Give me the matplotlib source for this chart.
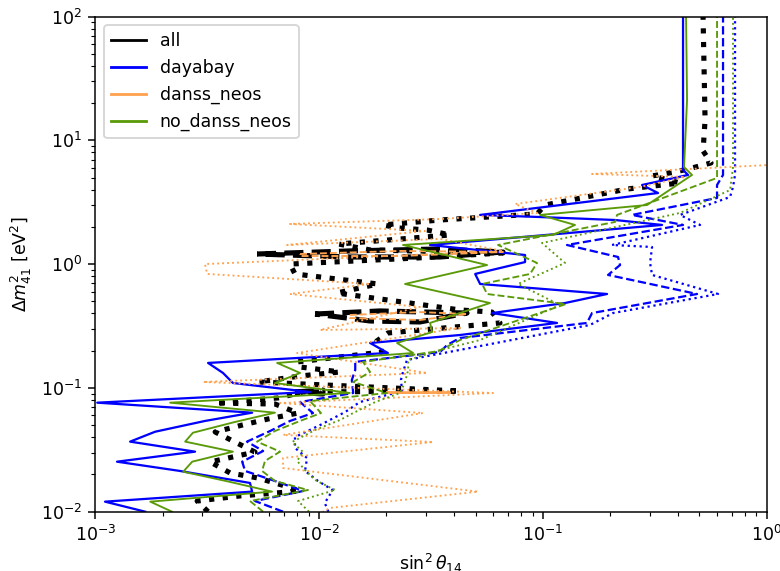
import matplotlib.pyplot as plt
from matplotlib.lines import Line2D

plt.rcParams['font.size'] = 9.3

# contour traces, sin^2(theta14) vs dm^2_41 [eV^2]

# all (combined fit)
all_dot_x = [3.19e-3, 2.85e-3, 4.43e-3, 8.22e-3, 7.04e-3, 5.33e-3, 4.00e-3, 3.26e-3, 5.17e-3, 4.12e-3,
             3.43e-3, 4.53e-3, 5.91e-3, 8.05e-3, 6.35e-3, 3.43e-3, 6.55e-3, 8.48e-3, 4.26e-2, 5.33e-3,
             8.22e-3, 1.24e-2, 8.22e-3, 7.97e-3, 1.91e-2, 1.81e-2, 2.03e-2, 6.43e-2, 5.92e-2, 4.26e-2,
             1.20e-2, 1.83e-2, 7.80e-3, 7.41e-3, 2.74e-2, 6.63e-2, 1.69e-2, 1.22e-2, 3.85e-2, 3.04e-2,
             2.25e-2, 1.93e-2, 3.47e-2, 9.41e-2, 0.1022, 0.2376, 0.4099, 0.3073, 0.3894, 0.4451,
             0.5638, 0.5194, 0.5302, 0.5194]
all_dot_y = [0.0100, 0.01219, 0.0134, 0.01469, 0.01614, 0.01871, 0.02056, 0.02523, 0.03034, 0.03724,
             0.04406, 0.0501, 0.0561, 0.06266, 0.07413, 0.07551, 0.0830, 0.0927, 0.0944, 0.1117,
             0.1248, 0.1346, 0.1476, 0.1622, 0.1950, 0.2393, 0.2780, 0.3350, 0.4102, 0.4266,
             0.5848, 0.6918, 0.8337, 1.002, 1.122, 1.232, 1.303, 1.455, 1.722, 1.888,
             1.963, 2.075, 2.275, 2.547, 3.006, 4.047, 4.529, 5.164, 5.559, 5.875,
             6.577, 8.222, 14.6, 100.0]

all_dash_x = [[5.28e-3, 1.37e-2, 3.47e-2, 6.63e-2, 3.47e-2, 1.37e-2, 5.28e-3],
              [9.59e-3, 1.87e-2, 4.58e-2, 2.82e-2, 1.69e-2, 9.59e-3],
              [7.80e-3, 1.04e-2, 1.04e-2, 7.80e-3]]
all_dash_y = [[1.208, 1.279, 1.327, 1.255, 1.143, 1.143, 1.208],
              [0.3954, 0.4188, 0.4027, 0.3412, 0.3475, 0.3954],
              [0.0927, 0.0962, 0.0893, 0.0927]]

# dayabay
dyb_solid_x = [1.67e-3, 1.105e-3, 5.02e-3, 4.91e-3, 2.39e-3, 1.25e-3, 2.79e-3, 1.43e-3, 1.85e-3, 3.09e-3,
               5.02e-3, 1.02e-3, 9.11e-3, 4.12e-3, 3.72e-3, 3.19e-3, 2.03e-2, 1.69e-2, 4.26e-2, 0.1156,
               5.92e-2, 0.1255, 0.1934, 5.24e-2, 4.98e-2, 8.32e-2, 8.32e-2, 3.13e-2, 0.3406, 0.2100,
               9.71e-2, 5.24e-2, 0.3268, 0.2773, 0.4451, 0.4227, 0.4227]
dyb_solid_y = [0.0100, 0.01205, 0.01452, 0.01706, 0.02133, 0.02535, 0.03055, 0.03681, 0.04426, 0.05408,
               0.0631, 0.0760, 0.0927, 0.1096, 0.1321, 0.1592, 0.1915, 0.2307, 0.2677, 0.3350,
               0.4027, 0.4853, 0.5741, 0.6918, 0.8337, 1.040, 1.186, 1.429, 2.075, 2.275,
               2.404, 2.500, 3.758, 4.365, 5.260, 5.768, 100.0]

dyb_dash_x = [6.90e-3, 5.17e-3, 8.48e-3, 6.35e-3, 4.67e-3, 4.53e-3, 5.62e-3, 4.76e-3, 6.04e-3, 7.41e-3,
              9.39e-3, 8.22e-3, 1.42e-2, 1.40e-2, 1.45e-2, 1.45e-2, 3.47e-2, 3.73e-2, 4.26e-2, 0.1574,
              0.1657, 0.4883, 0.1954, 0.2211, 0.2166, 0.1281, 0.4227, 0.2501, 0.5997, 0.5997,
              0.6378, 0.6378, 0.6378]
dyb_dash_y = [0.0100, 0.01219, 0.01469, 0.0177, 0.02133, 0.02535, 0.0309, 0.03681, 0.04487, 0.05408,
              0.06266, 0.0769, 0.0910, 0.1159, 0.1397, 0.1622, 0.1950, 0.2223, 0.2533, 0.3350,
              0.4027, 0.5741, 0.8185, 0.984, 1.143, 1.429, 2.075, 2.500, 3.428, 4.365,
              5.260, 6.095, 100.0]

dyb_dot_x = [1.10e-2, 1.06e-2, 1.15e-2, 9.89e-3, 8.65e-3, 8.83e-3, 7.80e-3, 7.80e-3, 1.01e-2, 1.31e-2,
             1.52e-2, 2.35e-2, 2.32e-2, 2.37e-2, 2.47e-2, 4.72e-2, 0.1623, 0.2057, 0.6059, 0.3073,
             0.3011, 0.3073, 0.2036, 0.5035, 0.4099, 0.6855, 0.7069, 0.7216, 0.7216]
dyb_dot_y = [0.0100, 0.01175, 0.01496, 0.0177, 0.02133, 0.02716, 0.03273, 0.04009, 0.0501, 0.0640,
             0.0769, 0.0944, 0.1159, 0.1346, 0.1683, 0.2102, 0.3228, 0.4027, 0.5741, 0.8185,
             1.023, 1.377, 1.429, 2.075, 2.500, 3.49, 4.207, 5.260, 100.0]

# danss_neos
dn_solid_x = [2.01e-2, 3.85e-2, 2.01e-2]
dn_solid_y = [0.0927, 0.0918, 0.0907]

dn_dash_x = [[8.22e-3, 2.30e-2, 6.63e-2, 2.30e-2, 8.22e-3, 8.22e-3],
             [1.37e-2, 2.82e-2, 4.58e-2, 2.82e-2, 1.37e-2, 1.37e-2]]
dn_dash_y = [[1.208, 1.279, 1.255, 1.164, 1.164, 1.208],
             [0.3884, 0.4102, 0.3954, 0.3540, 0.3673, 0.3884]]

dn_dot_x = [1.27, 0.1657, 0.4315, 0.2716, 7.51e-2, 9.41e-2, 3.47e-2, 7.41e-3, 2.97e-2, 7.19e-3,
            3.47e-2, 6.63e-2, 3.09e-3, 3.16e-3, 1.69e-2, 7.41e-3, 2.82e-2, 1.01e-2, 4.26e-2, 7.97e-3,
            3.04e-2, 3.03e-3, 5.98e-2, 6.69e-3, 2.91e-2, 6.90e-3, 3.23e-2, 6.90e-3, 6.90e-3, 5.13e-2,
            1.12e-2, 1.04e-2]
dn_dot_y = [6.457, 5.358, 5.070, 4.207, 3.062, 2.594, 2.317, 2.113, 1.854, 1.429,
            1.600, 1.279, 1.002, 0.8337, 0.6918, 0.5741, 0.4508, 0.2938, 0.3048, 0.1915,
            0.1321, 0.1117, 0.0910, 0.0755, 0.06266, 0.04169, 0.03656, 0.02716, 0.02254, 0.01452,
            0.01072, 0.0100]

# no_danss_neos
ndn_solid_x = [2.20e-3, 1.76e-3, 6.16e-3, 3.92e-3, 2.47e-3, 2.71e-3, 4.12e-3, 2.52e-3, 2.73e-3, 4.21e-3,
               6.35e-3, 2.16e-3, 1.37e-2, 6.35e-3, 8.22e-3, 6.49e-3, 2.63e-2, 2.23e-2, 3.20e-2, 3.13e-2,
               5.80e-2, 2.42e-2, 5.63e-2, 2.37e-2, 0.1109, 0.1391, 9.71e-2, 0.2919, 0.4637, 0.4270,
               0.4405, 0.4360]
ndn_solid_y = [0.0100, 0.01205, 0.01452, 0.01754, 0.02104, 0.02535, 0.03055, 0.03681, 0.04345, 0.05309,
               0.0631, 0.0760, 0.0910, 0.1096, 0.1321, 0.1592, 0.1915, 0.2307, 0.2831, 0.3350,
               0.4853, 0.6918, 0.984, 1.429, 1.722, 2.075, 2.500, 3.006, 5.260, 6.095,
               21.2, 100.0]

ndn_dash_x = [5.62e-3, 4.91e-3, 8.92e-3, 6.35e-3, 5.56e-3, 5.73e-3, 6.69e-3, 5.28e-3, 6.35e-3, 8.22e-3,
              1.02e-2, 9.11e-3, 2.01e-2, 1.42e-2, 1.69e-2, 1.57e-2, 3.40e-2, 4.26e-2, 0.1268, 5.63e-2,
              5.35e-2, 8.76e-2, 9.41e-2, 6.30e-2, 0.2100, 0.2144, 0.5997, 0.5997]
ndn_dash_y = [0.0100, 0.01219, 0.01496, 0.0177, 0.02133, 0.0257, 0.03055, 0.03681, 0.04487, 0.05408,
              0.06266, 0.0783, 0.0910, 0.1117, 0.1346, 0.1622, 0.1980, 0.2438, 0.4764, 0.5741,
              0.6918, 0.8337, 1.023, 1.429, 2.193, 2.500, 4.977, 100.0]

ndn_dot_x = [9.01e-3, 8.05e-3, 1.18e-2, 9.59e-3, 8.65e-3, 7.97e-3, 8.48e-3, 7.57e-3, 9.59e-3, 1.24e-2,
             1.42e-2, 1.78e-2, 2.30e-2, 2.42e-2, 2.50e-2, 2.50e-2, 3.47e-2, 5.24e-2, 0.1192, 7.74e-2,
             0.1255, 9.91e-2, 0.4099, 0.6855, 0.7069, 0.7069]
ndn_dot_y = [0.0100, 0.01219, 0.01496, 0.01803, 0.02173, 0.0257, 0.03034, 0.03656, 0.04571, 0.05508,
             0.06266, 0.0769, 0.0910, 0.1117, 0.1397, 0.1683, 0.2023, 0.2438, 0.4677, 0.6918,
             1.023, 1.483, 2.594, 3.972, 6.095, 100.0]

BLUE = '#0000ff'
ORANGE = '#ffa24f'
GREEN = '#5a9a08'

fig = plt.figure(figsize=(780 / 135, 571 / 135), dpi=135)
ax = fig.add_axes([0.1222, 0.1039, 0.8608, 0.8669])

# all
for xs, ys in zip(all_dash_x, all_dash_y):
    ax.plot(xs, ys, color='k', ls='--', lw=2.75)
ax.plot(all_dot_x, all_dot_y, color='k', ls=':', lw=2.75)

# dayabay
ax.plot(dyb_solid_x, dyb_solid_y, color=BLUE, ls='-', lw=1.2)
ax.plot(dyb_dash_x, dyb_dash_y, color=BLUE, ls='--', lw=1.2)
ax.plot(dyb_dot_x, dyb_dot_y, color=BLUE, ls=':', lw=1.2)

# danss_neos
ax.plot(dn_solid_x, dn_solid_y, color=ORANGE, ls='-', lw=1.0)
for xs, ys in zip(dn_dash_x, dn_dash_y):
    ax.plot(xs, ys, color=ORANGE, ls='--', lw=1.0)
ax.plot(dn_dot_x, dn_dot_y, color=ORANGE, ls=':', lw=1.0)

# no_danss_neos
ax.plot(ndn_solid_x, ndn_solid_y, color=GREEN, ls='-', lw=1.0)
ax.plot(ndn_dash_x, ndn_dash_y, color=GREEN, ls='--', lw=1.0)
ax.plot(ndn_dot_x, ndn_dot_y, color=GREEN, ls=':', lw=1.0)

ax.set_xscale('log')
ax.set_yscale('log')
ax.set_xlim(1e-3, 1)
ax.set_ylim(1e-2, 1e2)
ax.set_xlabel(r'$\sin^2\theta_{14}$')
ax.set_ylabel(r'$\Delta m^2_{41}$ [eV$^2$]')

handles = [Line2D([], [], color='k', lw=1.5),
           Line2D([], [], color=BLUE, lw=1.5),
           Line2D([], [], color=ORANGE, lw=1.5),
           Line2D([], [], color=GREEN, lw=1.5)]
ax.legend(handles, ['all', 'dayabay', 'danss_neos', 'no_danss_neos'], loc='upper left')

fig.savefig('out.png', dpi=135)
